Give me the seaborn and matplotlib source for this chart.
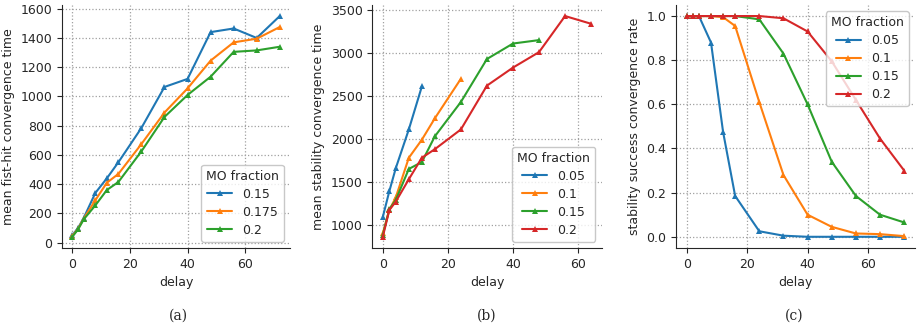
import numpy as np
import pandas as pd
import seaborn as sns
import matplotlib.pyplot as plt

# delays used in every panel
delay = [0, 2, 4, 8, 12, 16, 24, 32, 40, 48, 56, 64, 72]

# (a) mean first-hit convergence time
fa_015 = [50, 100, 170, 340, 440, 550, 785, 1065, 1120, 1440, 1465, 1400, 1550]
fa_0175 = [45, 95, 165, 290, 410, 470, 675, 890, 1055, 1245, 1370, 1395, 1475]
fa_02 = [40, 90, 160, 255, 360, 415, 625, 860, 1010, 1135, 1305, 1315, 1340]

# (b) mean stability convergence time (series stop where nothing converged)
sb_005 = [1090, 1390, 1660, 2110, 2610]
sb_01 = [900, 1170, 1320, 1780, 1990, 2240, 2700]
sb_015 = [880, 1180, 1290, 1650, 1730, 2030, 2430, 2930, 3110, 3150]
sb_02 = [860, 1170, 1270, 1530, 1780, 1880, 2110, 2620, 2830, 3010, 3430, 3340]

# (c) stability success convergence rate
sc_005 = [1.0, 1.0, 1.0, 0.88, 0.475, 0.185, 0.025, 0.005, 0.0, 0.0, 0.0, 0.0, 0.0]
sc_01 = [1.0, 1.0, 1.0, 1.0, 0.995, 0.955, 0.61, 0.28, 0.10, 0.045, 0.015, 0.012, 0.003]
sc_015 = [1.0, 1.0, 1.0, 1.0, 1.0, 1.0, 0.985, 0.83, 0.60, 0.34, 0.185, 0.10, 0.065]
sc_02 = [1.0, 1.0, 1.0, 1.0, 1.0, 1.0, 1.0, 0.99, 0.93, 0.795, 0.62, 0.445, 0.30]


def long_df(series):
    rows = []
    for frac, vals in series.items():
        for d, v in zip(delay, vals):
            rows.append({'delay': d, 'value': v, 'MO fraction': frac})
    return pd.DataFrame(rows)


df_a = long_df({'0.15': fa_015, '0.175': fa_0175, '0.2': fa_02})
df_b = long_df({'0.05': sb_005, '0.1': sb_01, '0.15': sb_015, '0.2': sb_02})
df_c = long_df({'0.05': sc_005, '0.1': sc_01, '0.15': sc_015, '0.2': sc_02})

sns.set_style('ticks')
plt.rcParams['font.size'] = 9
plt.rcParams['grid.linestyle'] = ':'
plt.rcParams['grid.color'] = '#a0a0a0'
plt.rcParams['grid.linewidth'] = 0.9

tab = ['#1f77b4', '#ff7f0e', '#2ca02c', '#d62728']

fig = plt.figure(figsize=(9.24, 3.34), dpi=100)
ax_a = fig.add_axes([0.067, 0.258, 0.247, 0.727])
ax_b = fig.add_axes([0.403, 0.258, 0.248, 0.727])
ax_c = fig.add_axes([0.7316, 0.258, 0.2587, 0.727])

panels = [
    (ax_a, df_a, tab[:3], 'mean fist-hit convergence time', 'lower right'),
    (ax_b, df_b, tab, 'mean stability convergence time', 'lower right'),
    (ax_c, df_c, tab, 'stability success convergence rate', 'upper right'),
]

for ax, df, pal, ylab, loc in panels:
    sns.lineplot(data=df, x='delay', y='value', hue='MO fraction',
                 palette=pal, marker='^', markersize=4.5, markeredgewidth=0,
                 linewidth=1.5, ax=ax)
    ax.grid(True)
    ax.set_xlabel('delay', fontsize=9)
    ax.set_ylabel(ylab, fontsize=9)
    ax.set_xticks([0, 20, 40, 60])
    ax.tick_params(labelsize=9)
    sns.despine(ax=ax)
    leg = ax.legend(title='MO fraction', loc=loc, fontsize=9,
                    title_fontsize=9, frameon=True, fancybox=True,
                    borderpad=0.4, labelspacing=0.4)
    leg.get_frame().set_edgecolor('#bbbbbb')

ax_a.set_yticks(np.arange(0, 1601, 200))
ax_b.set_yticks(np.arange(1000, 3501, 500))
ax_c.set_yticks(np.arange(0, 1.01, 0.2))

for x, lab in [(0.193, '(a)'), (0.527, '(b)'), (0.86, '(c)')]:
    fig.text(x, 0.035, lab, ha='center', va='bottom', fontsize=10,
             family='DejaVu Serif')

plt.savefig('out.png', dpi=100)
